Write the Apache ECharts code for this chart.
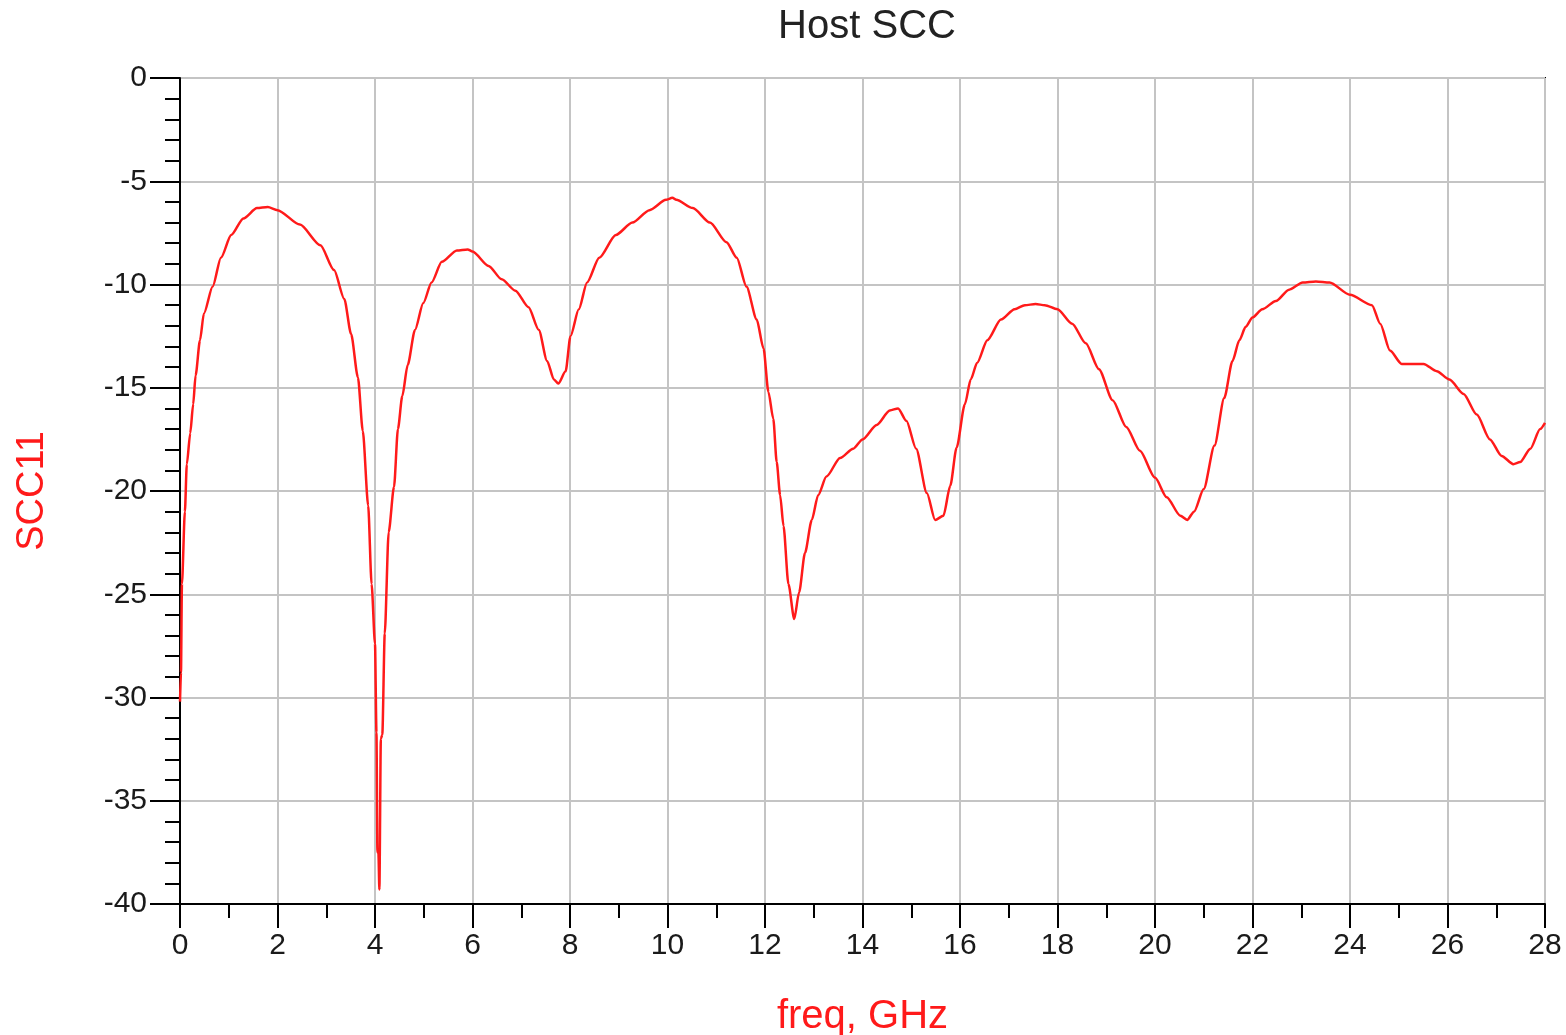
<!DOCTYPE html>
<html>
<head>
<meta charset="utf-8">
<script src="https://cdn.jsdelivr.net/npm/echarts@6/dist/echarts.min.js"></script>
<style>
html,body{margin:0;padding:0;background:#fff;}
#chart{width:1566px;height:1035px;}
</style>
</head>
<body>
<div id="chart"></div>
<script>
const titleText = 'Host SCC';
const xName = 'freq, GHz';
const yName = 'SCC11';
const xTicks = [0,2,4,6,8,10,12,14,16,18,20,22,24,26,28];
const yTicks = [0,-5,-10,-15,-20,-25,-30,-35,-40];

const freq = [0,0.02,0.04,0.1,0.14,0.21,0.27,0.32,0.41,0.49,0.67,0.84,1.05,1.3,1.58,1.8,2.0,2.46,2.88,3.16,3.37,3.51,3.65,3.75,3.86,3.93,4.0,4.03,4.05,4.07,4.09,4.12,4.15,4.2,4.28,4.39,4.47,4.56,4.67,4.82,4.99,5.16,5.37,5.68,5.9,6.0,6.33,6.6,6.88,7.15,7.36,7.53,7.67,7.76,7.91,8.01,8.18,8.35,8.6,8.94,9.28,9.63,9.97,10.1,10.18,10.52,10.87,11.21,11.42,11.62,11.83,11.97,12.07,12.17,12.24,12.31,12.38,12.48,12.6,12.7,12.82,12.96,13.09,13.26,13.54,13.81,14.0,14.29,14.56,14.73,14.9,15.1,15.32,15.49,15.66,15.8,15.93,16.1,16.22,16.35,16.56,16.84,17.12,17.33,17.55,17.74,18.0,18.3,18.58,18.85,19.13,19.41,19.69,20.0,20.24,20.52,20.66,20.8,21.0,21.22,21.42,21.59,21.73,21.86,22.0,22.2,22.48,22.75,23.03,23.3,23.58,24.0,24.45,24.62,24.82,25.06,25.51,25.78,26.04,26.33,26.6,26.87,27.11,27.35,27.49,27.7,27.9,28.0];
const scc11 = [-30.2,-28.8,-24.5,-21,-18.7,-17.2,-15.8,-14.4,-12.7,-11.4,-10.1,-8.7,-7.6,-6.8,-6.3,-6.25,-6.4,-7.1,-8.1,-9.3,-10.7,-12.4,-14.5,-17.1,-20.7,-24.5,-27.4,-31.7,-37.5,-37.5,-39.3,-32,-31.8,-26.9,-22,-19.8,-17.0,-15.4,-13.9,-12.2,-10.9,-9.9,-8.9,-8.35,-8.3,-8.4,-9.1,-9.75,-10.3,-11.1,-12.2,-13.7,-14.6,-14.8,-14.2,-12.5,-11.2,-9.9,-8.7,-7.6,-7.0,-6.4,-5.9,-5.8,-5.9,-6.3,-7.0,-7.95,-8.7,-10.1,-11.7,-13.1,-15.2,-16.5,-18.6,-20.2,-21.7,-24.5,-26.2,-24.9,-23.0,-21.4,-20.2,-19.3,-18.4,-17.95,-17.5,-16.8,-16.1,-16.0,-16.6,-17.95,-20.1,-21.4,-21.2,-19.75,-17.9,-15.8,-14.6,-13.8,-12.7,-11.7,-11.2,-11.0,-10.95,-11.0,-11.2,-11.9,-12.85,-14.1,-15.6,-16.9,-18.05,-19.35,-20.3,-21.2,-21.4,-21.0,-19.9,-17.8,-15.5,-13.7,-12.7,-12.05,-11.6,-11.2,-10.8,-10.25,-9.9,-9.85,-9.9,-10.5,-11.0,-11.9,-13.2,-13.85,-13.85,-14.2,-14.6,-15.3,-16.3,-17.5,-18.3,-18.7,-18.6,-17.95,-17.0,-16.7];

const data = freq.map((f, i) => [f, scc11[i]]);
const FONT = '"Liberation Sans", Arial, sans-serif';

const chart = echarts.init(document.getElementById('chart'), null, {renderer: 'canvas'});
chart.setOption({
  animation: false,
  backgroundColor: '#fff',
  title: {
    text: titleText,
    left: 862,
    top: 2,
    textAlign: 'center',
    textStyle: {fontSize: 40, fontWeight: 'normal', color: '#222', fontFamily: FONT}
  },
  grid: {
    left: 180, right: 21, top: 78, bottom: 131,
    containLabel: false,
    outerBoundsMode: 'none',
    show: true, borderColor: '#000', borderWidth: 2, backgroundColor: 'transparent'
  },
  xAxis: {
    type: 'value',
    min: xTicks[0], max: xTicks[xTicks.length - 1], interval: 2,
    name: xName,
    nameLocation: 'middle',
    nameGap: 93,
    nameTextStyle: {fontSize: 40, color: '#ff1a1a', fontFamily: FONT},
    axisLine: {show: true, onZero: false, lineStyle: {color: '#000', width: 2}},
    axisTick: {show: true, length: 24, lineStyle: {color: '#000', width: 2}},
    minorTick: {show: true, splitNumber: 2, length: 14, lineStyle: {color: '#000', width: 2}},
    axisLabel: {fontSize: 30, color: '#1a1a1a', margin: 27, fontFamily: FONT},
    splitLine: {show: true, lineStyle: {color: '#c4c4c4', width: 2}}
  },
  yAxis: {
    type: 'value',
    min: yTicks[yTicks.length - 1], max: yTicks[0], interval: 5,
    name: yName,
    nameLocation: 'middle',
    nameGap: 128,
    nameRotate: 90,
    nameTextStyle: {fontSize: 38, color: '#ff1a1a', fontFamily: FONT},
    axisLine: {show: true, onZero: false, lineStyle: {color: '#000', width: 2}},
    axisTick: {show: true, length: 30, lineStyle: {color: '#000', width: 2}},
    minorTick: {show: true, splitNumber: 5, length: 15, lineStyle: {color: '#000', width: 2}},
    axisLabel: {fontSize: 30, color: '#1a1a1a', margin: 33, fontFamily: FONT},
    splitLine: {show: true, lineStyle: {color: '#c4c4c4', width: 2}}
  },
  series: [{
    type: 'line',
    data: data,
    showSymbol: false,
    smooth: 0.25,
    smoothMonotone: 'x',
    lineStyle: {color: '#ff1a1a', width: 2.5},
    itemStyle: {color: '#ff1a1a'}
  }]
});
</script>
</body>
</html>
